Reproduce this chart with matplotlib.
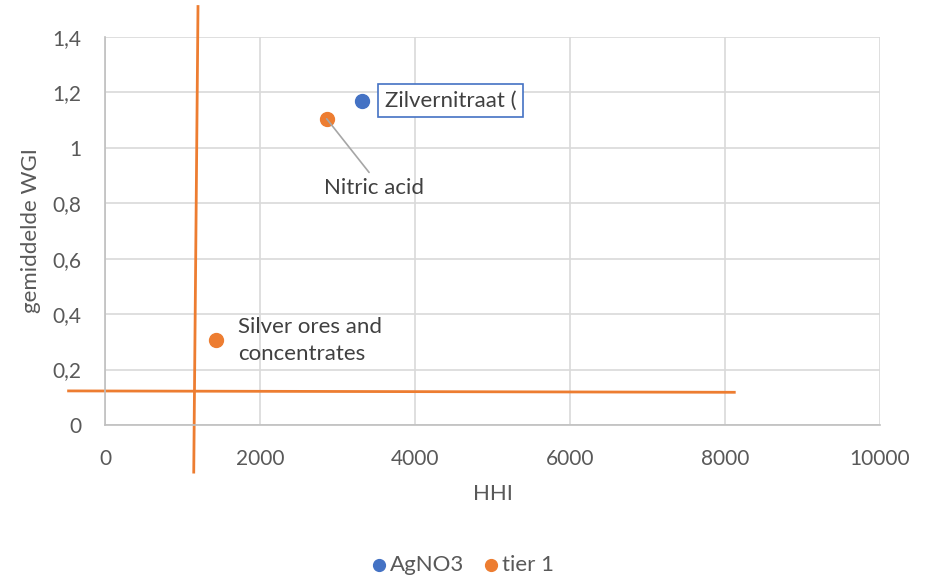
import matplotlib

matplotlib.use("Agg")
import matplotlib.pyplot as plt

# data
agno3_hhi = [3310]
agno3_wgi = [1.17]
tier1_hhi = [2860, 1430]
tier1_wgi = [1.105, 0.305]
tier1_names = ["Nitric acid", "Silver ores and\nconcentrates"]

# hand-drawn threshold lines (extend beyond the plot area)
vline_x = [1200, 1145]
vline_y = [1.51, -0.17]
hline_x = [-470, 8120]
hline_y = [0.123, 0.118]

BLUE = "#4472C4"
ORANGE = "#ED7D31"
TEXT = "#595959"

plt.rcParams["font.family"] = ["Lato", "DejaVu Sans"]

fig = plt.figure(figsize=(9.26, 5.78), dpi=100)
ax = fig.add_axes([105 / 926, 1 - 425 / 578, 775 / 926, 388 / 578])

ax.scatter(agno3_hhi, agno3_wgi, s=100, color=BLUE, label="AgNO3", zorder=3)
ax.scatter(tier1_hhi, tier1_wgi, s=100, color=ORANGE, label="tier 1", zorder=3)

ax.set_xlim(0, 10000)
ax.set_ylim(0, 1.4)
ax.set_xticks(range(0, 10001, 2000))
ax.set_yticks([0, 0.2, 0.4, 0.6, 0.8, 1.0, 1.2, 1.4])
ax.set_yticklabels(["0", "0,2", "0,4", "0,6", "0,8", "1", "1,2", "1,4"])
ax.grid(True, color="#D9D9D9", linewidth=1.2)
ax.set_axisbelow(True)
for side in ("top", "right"):
    ax.spines[side].set_visible(False)
for side in ("left", "bottom"):
    ax.spines[side].set_color("#BFBFBF")
    ax.spines[side].set_linewidth(1.2)
ax.tick_params(length=0, labelsize=15, colors=TEXT)
ax.tick_params(axis="x", pad=17)
ax.tick_params(axis="y", pad=17)
ax.set_xlabel("HHI", fontsize=16, color=TEXT, labelpad=11)
ax.set_ylabel("gemiddelde WGI", fontsize=16, color=TEXT, labelpad=8)

# data labels
ax.annotate("Zilvernitraat (", (agno3_hhi[0], agno3_wgi[0]), xytext=(17, 0),
            textcoords="offset points", fontsize=16, color="#404040", va="center",
            bbox=dict(boxstyle="square,pad=0.3", fc="white", ec=BLUE, lw=1.2))
ax.annotate(tier1_names[0], (tier1_hhi[0], tier1_wgi[0]), xytext=(34, -43),
            textcoords="offset points", fontsize=16, color="#404040", ha="center", va="top",
            arrowprops=dict(arrowstyle="-", color="#A6A6A6", lw=1.2, shrinkA=3, shrinkB=0,
                            relpos=(0.5, 1.0)))
ax.annotate(tier1_names[1], (tier1_hhi[1], tier1_wgi[1]), xytext=(16, 0),
            textcoords="offset points", fontsize=16, color="#404040", va="center",
            linespacing=1.45)

# threshold lines
ax.plot(vline_x, vline_y, color=ORANGE, lw=2, clip_on=False, zorder=2)
ax.plot(hline_x, hline_y, color=ORANGE, lw=2, clip_on=False, zorder=2)

fig.legend(loc="center", bbox_to_anchor=(0.492, 1 - 565 / 578), ncol=2, frameon=False,
           fontsize=16, labelcolor=TEXT, handletextpad=-0.5, columnspacing=0.2,
           scatterpoints=1, markerscale=0.85)

fig.savefig("out.png", dpi=100)
